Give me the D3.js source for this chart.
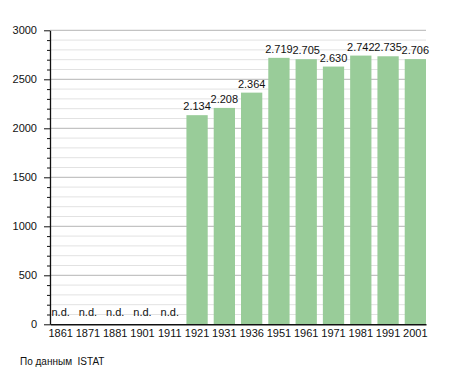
<!DOCTYPE html>
<html lang="ru">
<head>
  <meta charset="UTF-8">
  <title>Население</title>
  <style>
    body {
      margin: 0;
      background: white;
      font-family: "Liberation Sans", Arial, sans-serif;
    }
    .bar {
      fill: #99cc99;
    }
    .value {
      font-size: 11px;
      text-anchor: middle;
      fill: #111;
    }
    .tick text {
      font-size: 11px;
      fill: #111;
    }
  </style>
</head>
<body>
  <svg id="chart" width="455" height="373"></svg>

  <script src="https://d3js.org/d3.v7.min.js"></script>
  <script>
    var years = ["1861", "1871", "1881", "1901", "1911", "1921", "1931", "1936", "1951", "1961", "1971", "1981", "1991", "2001"];
    var population = [null, null, null, null, null, 2134, 2208, 2364, 2719, 2705, 2630, 2742, 2735, 2706];
    var majorTicks = [0, 500, 1000, 1500, 2000, 2500, 3000];
    var sourceNote = "По данным\u00a0 ISTAT";

    var plotLeft = 50, plotRight = 426, plotTop = 30.3, plotBottom = 324.3;

    var chart = d3.select("#chart");

    var x = d3.scaleBand()
      .domain(years)
      .range([plotLeft, plotRight])
      .paddingInner(0.22)
      .paddingOuter(0);

    var y = d3.scaleLinear()
      .domain([0, 3000])
      .range([plotBottom, plotTop]);

    var minorTicks = d3.range(0, 3001, 100).filter(function(v) { return v % 500 !== 0; });

    // light grid every 100
    chart.append("g").selectAll("line")
      .data(minorTicks)
      .enter().append("line")
      .attr("x1", plotLeft).attr("x2", plotRight)
      .attr("y1", function(d) { return y(d); })
      .attr("y2", function(d) { return y(d); })
      .attr("stroke", "#e2e2e2")
      .attr("stroke-width", 1);

    // darker grid every 500
    chart.append("g").selectAll("line")
      .data(majorTicks.slice(1))
      .enter().append("line")
      .attr("x1", plotLeft).attr("x2", plotRight)
      .attr("y1", function(d) { return y(d); })
      .attr("y2", function(d) { return y(d); })
      .attr("stroke", "#b4b4b4")
      .attr("stroke-width", 1);

    var rows = years.map(function(yr, i) { return { year: yr, value: population[i] }; });

    chart.selectAll(".bar")
      .data(rows.filter(function(d) { return d.value !== null; }))
      .enter().append("rect")
      .attr("class", "bar")
      .attr("x", function(d) { return x(d.year); })
      .attr("y", function(d) { return y(d.value); })
      .attr("width", x.bandwidth())
      .attr("height", function(d) { return plotBottom - y(d.value); });

    var fmt = function(v) { return v === null ? "n.d." : d3.format(",")(v).replace(",", "."); };

    chart.selectAll(".value")
      .data(rows)
      .enter().append("text")
      .attr("class", "value")
      .attr("x", function(d) { return x(d.year) + x.bandwidth() / 2; })
      .attr("y", function(d) { return d.value === null ? plotBottom - 8 : y(d.value) - 5; })
      .text(function(d) { return fmt(d.value); });

    // y axis minor ticks
    chart.append("g")
      .attr("transform", "translate(" + plotLeft + ",0)")
      .call(d3.axisLeft(y).tickValues(minorTicks).tickSize(3).tickFormat(""))
      .call(function(g) { g.select(".domain").remove(); })
      .selectAll("line").attr("stroke", "#111");

    var yAxis = chart.append("g")
      .attr("transform", "translate(" + plotLeft + ",0)")
      .call(d3.axisLeft(y).tickValues(majorTicks).tickSize(6).tickPadding(7).tickSizeOuter(0).tickFormat(d3.format("d")));
    yAxis.select(".domain").attr("stroke", "#111").attr("stroke-width", 1.3);
    yAxis.selectAll("line").attr("stroke", "#111");

    var xAxis = chart.append("g")
      .attr("transform", "translate(0," + plotBottom + ")")
      .call(d3.axisBottom(x).tickSize(0).tickPadding(5).tickSizeOuter(0));
    xAxis.select(".domain").attr("stroke", "#111").attr("stroke-width", 1.5);

    chart.append("text")
      .attr("x", 20)
      .attr("y", 365)
      .attr("font-size", 10)
      .attr("fill", "#111")
      .text(sourceNote);
  </script>
</body>
</html>
